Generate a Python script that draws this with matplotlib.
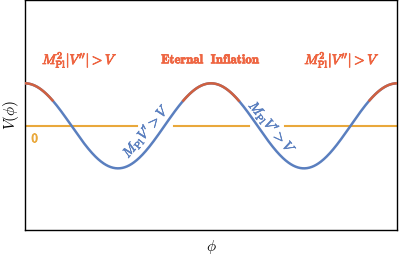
import numpy as np
import matplotlib
matplotlib.use("Agg")
import matplotlib.pyplot as plt
import matplotlib.patheffects as pe

plt.rcParams['mathtext.fontset'] = 'cm'
plt.rcParams['font.family'] = 'serif'
plt.rcParams['font.serif'] = ['DejaVu Serif']

# data
phi_range = [0.0, 4 * np.pi]
red_halfwidth = 0.3 * np.pi          # region around maxima where |V''| > V
peak_positions = [0.0, 2 * np.pi, 4 * np.pi]
ylim = [-2.45, 2.96]
line_gaps = [(3.77, 5.02), (7.55, 8.79)]  # gaps in the zero line (phi)

label_curv = r"$M_{\rm Pl}^2|V''|>V$"
label_mid = r"$\mathbf{Eternal\ \ Inflation}$"
label_slope = r"$M_{\rm Pl}V'>V$"

blue = "#5A7FBF"
red = "#D0603F"
orange = "#E9A83B"
txt_red = "#EE6440"

fig = plt.figure(figsize=(3.99, 2.57), dpi=100)
ax = fig.add_axes([25/399, 1 - 230/257, 372/399, 230/257])

phi = np.linspace(phi_range[0], phi_range[1], 800)
V = np.cos(phi)
ax.plot(phi, V, color=blue, lw=1.8, zorder=3)
for p in peak_positions:
    m = (phi >= p - red_halfwidth) & (phi <= p + red_halfwidth)
    ax.plot(phi[m], V[m], color=red, lw=1.8, zorder=4)

# zero line with gaps
edges = [phi_range[0]]
for a, b in line_gaps:
    edges += [a, b]
edges.append(phi_range[1])
for i in range(0, len(edges), 2):
    ax.plot([edges[i], edges[i + 1]], [0, 0], color=orange, lw=1.5, zorder=2)

def bold(c, w=0.6):
    return [pe.withStroke(linewidth=w, foreground=c)]

ax.text(0.35, -0.3, r"$\mathbf{0}$", color=orange, fontsize=9,
        ha='center', va='center', path_effects=bold(orange, 0.6))

ax.text(1.85, 1.55, label_curv, color=txt_red, fontsize=10,
        ha='center', va='center', path_effects=bold(txt_red))
ax.text(2 * np.pi, 1.55, label_mid, color=txt_red, fontsize=9.3,
        ha='center', va='center', path_effects=bold(txt_red, 0.5))
ax.text(10.71, 1.55, label_curv, color=txt_red, fontsize=10,
        ha='center', va='center', path_effects=bold(txt_red))

ax.text(4.08, -0.12, label_slope, color=blue, fontsize=10, rotation=50,
        ha='center', va='center', rotation_mode='anchor',
        path_effects=bold(blue, 0.4))
ax.text(8.35, -0.05, label_slope, color=blue, fontsize=10, rotation=-50,
        ha='center', va='center', rotation_mode='anchor',
        path_effects=bold(blue, 0.4))

ax.set_xlim(phi_range)
ax.set_ylim(ylim)
ax.set_xticks([])
ax.set_yticks([])
ax.set_xlabel(r"$\phi$", fontsize=11, labelpad=6)
ax.set_ylabel(r"$V(\phi)$", fontsize=11, labelpad=3)
for s in ax.spines.values():
    s.set_linewidth(1.0)

fig.savefig("out.png", dpi=100)
